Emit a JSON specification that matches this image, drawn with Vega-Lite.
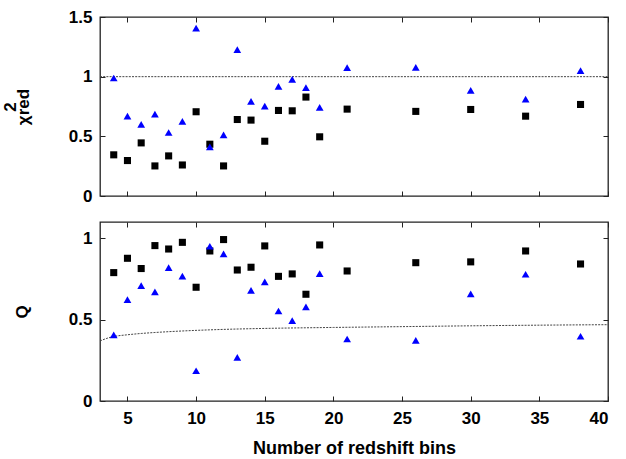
{
  "$schema": "https://vega.github.io/schema/vega-lite/v6.json",
  "padding": {"left": 0, "top": 7, "right": 5, "bottom": 2},
  "spacing": 26,
  "bounds": "flush",
  "datasets": {
    "chi": [
      {"n": 4, "s": "a", "v": 0.345}, {"n": 5, "s": "a", "v": 0.297}, {"n": 6, "s": "a", "v": 0.445},
      {"n": 7, "s": "a", "v": 0.252}, {"n": 8, "s": "a", "v": 0.336}, {"n": 9, "s": "a", "v": 0.26},
      {"n": 10, "s": "a", "v": 0.706}, {"n": 11, "s": "a", "v": 0.434}, {"n": 12, "s": "a", "v": 0.252},
      {"n": 13, "s": "a", "v": 0.641}, {"n": 14, "s": "a", "v": 0.636}, {"n": 15, "s": "a", "v": 0.459},
      {"n": 16, "s": "a", "v": 0.717}, {"n": 17, "s": "a", "v": 0.714}, {"n": 18, "s": "a", "v": 0.829},
      {"n": 19, "s": "a", "v": 0.496}, {"n": 21, "s": "a", "v": 0.728}, {"n": 26, "s": "a", "v": 0.709},
      {"n": 30, "s": "a", "v": 0.725}, {"n": 34, "s": "a", "v": 0.669}, {"n": 38, "s": "a", "v": 0.767},
      {"n": 4, "s": "b", "v": 0.989}, {"n": 5, "s": "b", "v": 0.669}, {"n": 6, "s": "b", "v": 0.6},
      {"n": 7, "s": "b", "v": 0.686}, {"n": 8, "s": "b", "v": 0.532}, {"n": 9, "s": "b", "v": 0.625},
      {"n": 10, "s": "b", "v": 1.406}, {"n": 11, "s": "b", "v": 0.412}, {"n": 12, "s": "b", "v": 0.513},
      {"n": 13, "s": "b", "v": 1.227}, {"n": 14, "s": "b", "v": 0.793}, {"n": 15, "s": "b", "v": 0.754},
      {"n": 16, "s": "b", "v": 0.919}, {"n": 17, "s": "b", "v": 0.978}, {"n": 18, "s": "b", "v": 0.908},
      {"n": 19, "s": "b", "v": 0.742}, {"n": 21, "s": "b", "v": 1.076}, {"n": 26, "s": "b", "v": 1.078},
      {"n": 30, "s": "b", "v": 0.885}, {"n": 34, "s": "b", "v": 0.812}, {"n": 38, "s": "b", "v": 1.05}
    ],
    "q": [
      {"n": 4, "s": "a", "v": 0.789}, {"n": 5, "s": "a", "v": 0.877}, {"n": 6, "s": "a", "v": 0.814},
      {"n": 7, "s": "a", "v": 0.955}, {"n": 8, "s": "a", "v": 0.934}, {"n": 9, "s": "a", "v": 0.975},
      {"n": 10, "s": "a", "v": 0.699}, {"n": 11, "s": "a", "v": 0.922}, {"n": 12, "s": "a", "v": 0.992},
      {"n": 13, "s": "a", "v": 0.805}, {"n": 14, "s": "a", "v": 0.822}, {"n": 15, "s": "a", "v": 0.953},
      {"n": 16, "s": "a", "v": 0.766}, {"n": 17, "s": "a", "v": 0.781}, {"n": 18, "s": "a", "v": 0.656},
      {"n": 19, "s": "a", "v": 0.959}, {"n": 21, "s": "a", "v": 0.799}, {"n": 26, "s": "a", "v": 0.85},
      {"n": 30, "s": "a", "v": 0.855}, {"n": 34, "s": "a", "v": 0.922}, {"n": 38, "s": "a", "v": 0.842},
      {"n": 4, "s": "b", "v": 0.406}, {"n": 5, "s": "b", "v": 0.623}, {"n": 6, "s": "b", "v": 0.709},
      {"n": 7, "s": "b", "v": 0.67}, {"n": 8, "s": "b", "v": 0.82}, {"n": 9, "s": "b", "v": 0.768},
      {"n": 10, "s": "b", "v": 0.186}, {"n": 11, "s": "b", "v": 0.951}, {"n": 12, "s": "b", "v": 0.904},
      {"n": 13, "s": "b", "v": 0.268}, {"n": 14, "s": "b", "v": 0.68}, {"n": 15, "s": "b", "v": 0.732},
      {"n": 16, "s": "b", "v": 0.553}, {"n": 17, "s": "b", "v": 0.494}, {"n": 18, "s": "b", "v": 0.578},
      {"n": 19, "s": "b", "v": 0.783}, {"n": 21, "s": "b", "v": 0.381}, {"n": 26, "s": "b", "v": 0.373},
      {"n": 30, "s": "b", "v": 0.658}, {"n": 34, "s": "b", "v": 0.779}, {"n": 38, "s": "b", "v": 0.398}
    ],
    "ref": [{"n": 3, "v": 1}, {"n": 40, "v": 1}],
    "curve": [
      {"n": 3, "v": 0.369}, {"n": 3.5, "v": 0.385}, {"n": 4, "v": 0.396}, {"n": 5, "v": 0.407},
      {"n": 6, "v": 0.415}, {"n": 7, "v": 0.421}, {"n": 8, "v": 0.426}, {"n": 10, "v": 0.434},
      {"n": 12, "v": 0.44}, {"n": 15, "v": 0.446}, {"n": 20, "v": 0.452}, {"n": 25, "v": 0.457},
      {"n": 30, "v": 0.462}, {"n": 35, "v": 0.466}, {"n": 40, "v": 0.469}
    ]
  },
  "vconcat": [
    {
      "width": 508,
      "height": 179,
      "resolve": {"axis": {"x": "independent", "y": "independent"}},
      "layer": [
        {
          "data": {"name": "ref"},
          "mark": {"type": "line", "color": "#444", "strokeWidth": 1, "strokeDash": [2, 1.2]},
          "encoding": {
            "x": {"field": "n", "type": "quantitative", "scale": {"domain": [3, 40], "nice": false},
                  "axis": {"orient": "top", "values": [5, 10, 15, 20, 25, 30, 35, 40], "labels": false, "title": null}},
            "y": {"field": "v", "type": "quantitative", "scale": {"domain": [0, 1.5], "nice": false},
                  "axis": {"orient": "right", "values": [0, 0.5, 1, 1.5], "labels": false, "title": null}}
          }
        },
        {
          "data": {"name": "chi"},
          "mark": {"type": "point", "filled": true, "opacity": 1},
          "encoding": {
            "x": {"field": "n", "type": "quantitative", "scale": {"domain": [3, 40], "nice": false},
                  "axis": {"orient": "bottom", "values": [5, 10, 15, 20, 25, 30, 35, 40], "labels": false, "title": null}},
            "y": {"field": "v", "type": "quantitative", "scale": {"domain": [0, 1.5], "nice": false},
                  "axis": {"orient": "left", "values": [0, 0.5, 1, 1.5], "format": "~g",
                           "title": ["\u00a0\u00a02\u00a0\u00a0\u00a0\u00a0", "χred"], "titleLineHeight": 13, "titlePadding": 36}},
            "shape": {"field": "s", "type": "nominal", "scale": {"domain": ["a", "b"], "range": ["square", "triangle-up"]}, "legend": null},
            "color": {"field": "s", "type": "nominal", "scale": {"domain": ["a", "b"], "range": ["#000000", "#0000ff"]}, "legend": null},
            "size": {"field": "s", "type": "nominal", "scale": {"domain": ["a", "b"], "range": [50, 60]}, "legend": null}
          }
        }
      ]
    },
    {
      "width": 508,
      "height": 179,
      "resolve": {"axis": {"x": "independent", "y": "independent"}},
      "layer": [
        {
          "data": {"name": "curve"},
          "mark": {"type": "line", "color": "#444", "strokeWidth": 1, "strokeDash": [2, 1.2], "interpolate": "monotone"},
          "encoding": {
            "x": {"field": "n", "type": "quantitative", "scale": {"domain": [3, 40], "nice": false},
                  "axis": {"orient": "top", "values": [5, 10, 15, 20, 25, 30, 35, 40], "labels": false, "title": null}},
            "y": {"field": "v", "type": "quantitative", "scale": {"domain": [0, 1.1], "nice": false},
                  "axis": {"orient": "right", "values": [0, 0.5, 1], "labels": false, "title": null}}
          }
        },
        {
          "data": {"name": "q"},
          "mark": {"type": "point", "filled": true, "opacity": 1},
          "encoding": {
            "x": {"field": "n", "type": "quantitative", "scale": {"domain": [3, 40], "nice": false},
                  "axis": {"orient": "bottom", "values": [5, 10, 15, 20, 25, 30, 35, 40], "title": "Number of redshift bins", "titleFontSize": 18, "labelPadding": 9, "titlePadding": 13}},
            "y": {"field": "v", "type": "quantitative", "scale": {"domain": [0, 1.1], "nice": false},
                  "axis": {"orient": "left", "values": [0, 0.5, 1], "format": "~g", "title": "Q", "titlePadding": 37}},
            "shape": {"field": "s", "type": "nominal", "scale": {"domain": ["a", "b"], "range": ["square", "triangle-up"]}, "legend": null},
            "color": {"field": "s", "type": "nominal", "scale": {"domain": ["a", "b"], "range": ["#000000", "#0000ff"]}, "legend": null},
            "size": {"field": "s", "type": "nominal", "scale": {"domain": ["a", "b"], "range": [50, 60]}, "legend": null}
          }
        }
      ]
    }
  ],
  "config": {
    "font": "Liberation Sans",
    "view": {"stroke": "#222", "strokeWidth": 1.3},
    "axis": {
      "grid": false, "domain": false, "tickColor": "#222", "tickSize": 5, "tickWidth": 1, "offset": -5,
      "labelPadding": 8,
      "labelFont": "Liberation Sans", "labelFontWeight": "bold", "labelFontSize": 17, "labelColor": "#000",
      "titleFont": "Liberation Sans", "titleFontWeight": "bold", "titleFontSize": 17, "titleColor": "#000"
    }
  }
}
